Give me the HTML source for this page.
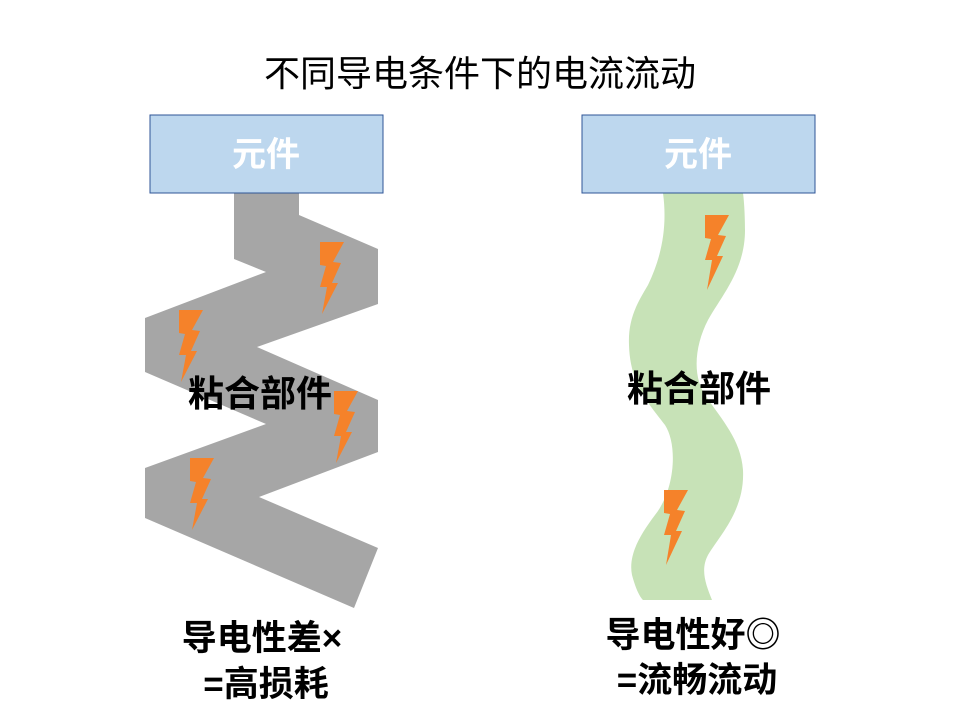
<!DOCTYPE html>
<html><head><meta charset="utf-8"><style>
body{margin:0;background:#fff;width:960px;height:720px;overflow:hidden}
svg text{font-family:"Liberation Sans","Noto Sans CJK SC",sans-serif}
</style></head><body>
<svg width="960" height="720" viewBox="0 0 960 720">
<text x="480" y="86" font-size="36" text-anchor="middle" fill="#000">不同导电条件下的电流流动</text>
<polygon fill="#a6a6a6" points="234,193 299,193 299,215 378,249 378,304 257,347 378,400 378,452 259,497 378,548 354,608 145,518 145,468 266,424 145,372 145,318 266,272 234,259"/>
<path fill="#c7e2b7" d="M663,193 C668,230 660,260 648,285 C636,305 628,320 629,345 C630,385 650,405 665,425 C678,445 675,490 655,515 C640,535 628,555 632,575 C636,590 640,597 643,600 L712,600 C706,585 700,570 708,555 C720,535 745,510 743,470 C741,440 722,420 705,395 C692,375 695,345 708,320 C722,295 745,270 745,230 C745,215 744,200 743,193 Z"/>
<g fill="#f5822a">
<polygon points="320,242 344,242 333,262 341,263 332,283 338,283 322,314 327,287 320,287 326,266 320,265"/>
<polygon points="179,310 203,310 192,330 200,331 191,351 197,351 181,382 186,355 179,355 185,334 179,333"/>
<polygon points="334,391 358,391 347,411 355,412 346,432 352,432 336,463 341,436 334,436 340,415 334,414"/>
<polygon points="190,458 214,458 203,478 211,479 202,499 208,499 192,530 197,503 190,503 196,482 190,481"/>
<polygon points="705,215 729,215 718,235 726,236 717,256 723,256 707,290 712,260 705,260 711,239 705,238"/>
<polygon points="664,490 688,490 677,510 685,511 676,531 682,531 666,565 671,535 664,535 670,514 664,513"/>
</g>
<rect x="150" y="115" width="233" height="78" fill="#bdd7ee" stroke="#2f5597" stroke-width="1"/>
<rect x="582" y="115" width="233" height="78" fill="#bdd7ee" stroke="#2f5597" stroke-width="1"/>
<text x="266" y="166" font-size="34" font-weight="bold" fill="#fff" text-anchor="middle">元件</text>
<text x="698" y="166" font-size="34" font-weight="bold" fill="#fff" text-anchor="middle">元件</text>
<text x="260" y="406" font-size="36" font-weight="bold" fill="#000" text-anchor="middle">粘合部件</text>
<text x="699" y="401" font-size="36" font-weight="bold" fill="#000" text-anchor="middle">粘合部件</text>
<text x="262" y="650" font-size="35" font-weight="bold" fill="#000" text-anchor="middle">导电性差×</text>
<text x="266" y="696" font-size="35" font-weight="bold" fill="#000" text-anchor="middle">=高损耗</text>
<text x="693" y="647" font-size="35" font-weight="bold" fill="#000" text-anchor="middle">导电性好◎</text>
<text x="697" y="692" font-size="35" font-weight="bold" fill="#000" text-anchor="middle">=流畅流动</text>
</svg>
</body></html>
